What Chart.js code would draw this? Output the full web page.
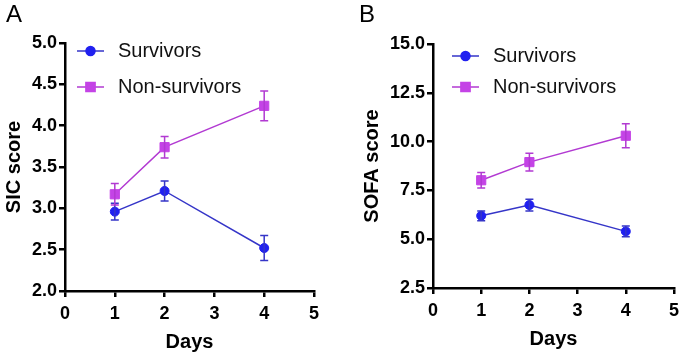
<!DOCTYPE html>
<html>
<head>
<meta charset="utf-8">
<script src="https://cdn.jsdelivr.net/npm/chart.js@4/dist/chart.umd.min.js"></script>
<style>
    body { margin: 0; background: #fff; }
    .panel { position: absolute; top: 0; width: 342px; height: 358px; }
    .letter { position: absolute; top: 2px; font: 24px "Liberation Sans", Arial, sans-serif; color: #000; line-height: 24px; }
</style>
</head>
<body>
<div class="panel" style="left:0"><canvas id="chartA" width="342" height="358"></canvas></div>
<div class="panel" style="left:343px"><canvas id="chartB" width="342" height="358"></canvas></div>
<div class="letter" style="left:6px">A</div>
<div class="letter" style="left:359px">B</div>
<script>
const days = [1, 2, 4];
const seriesNames = ['Survivors', 'Non-survivors'];

const sicSurvivors = [2.96, 3.21, 2.52];
const sicSurvivorsErr = [0.10, 0.12, 0.15];
const sicNonSurvivors = [3.17, 3.74, 4.24];
const sicNonSurvivorsErr = [0.13, 0.13, 0.18];

const sofaSurvivors = [6.2, 6.75, 5.4];
const sofaSurvivorsErr = [0.25, 0.3, 0.27];
const sofaNonSurvivors = [8.02, 8.95, 10.3];
const sofaNonSurvivorsErr = [0.4, 0.45, 0.62];

const blueLine = '#3535c8';
const bluePoint = '#2020f0';
const purpleLine = '#b23ad2';
const purplePoint = '#c443e6';
const fontFamily = '"Liberation Sans", Arial, sans-serif';

// error bars + legend drawn with the chart's own scales
const errorBarPlugin = {
    id: 'errorBars',
    afterDatasetsDraw(chart) {
        const ctx = chart.ctx;
        const xScale = chart.scales.x;
        const yScale = chart.scales.y;
        chart.data.datasets.forEach(ds => {
            ctx.save();
            ctx.strokeStyle = ds.borderColor;
            ctx.lineWidth = 1.5;
            ds.data.forEach((pt, i) => {
                const err = ds.errors[i];
                const x = xScale.getPixelForValue(pt.x);
                const yTop = yScale.getPixelForValue(pt.y + err);
                const yBot = yScale.getPixelForValue(pt.y - err);
                ctx.beginPath();
                ctx.moveTo(x, yTop);
                ctx.lineTo(x, yBot);
                ctx.moveTo(x - 4, yTop);
                ctx.lineTo(x + 4, yTop);
                ctx.moveTo(x - 4, yBot);
                ctx.lineTo(x + 4, yBot);
                ctx.stroke();
            });
            ctx.restore();
        });
    },
    afterDraw(chart) {
        const opts = chart.options.plugins.errorBars;
        const ctx = chart.ctx;
        chart.data.datasets.forEach((ds, i) => {
            const y = opts.rows[i];
            ctx.save();
            ctx.strokeStyle = ds.borderColor;
            ctx.lineWidth = 1.5;
            ctx.beginPath();
            ctx.moveTo(opts.lineX, y);
            ctx.lineTo(opts.lineX + 27, y);
            ctx.stroke();
            ctx.fillStyle = ds.pointBackgroundColor;
            ctx.strokeStyle = ds.pointBackgroundColor;
            Chart.helpers.drawPoint(ctx, {
                pointStyle: ds.pointStyle,
                radius: ds.pointRadius,
                borderWidth: 1,
            }, opts.lineX + 13.5, y);
            ctx.fillStyle = '#111';
            ctx.font = '20px ' + fontFamily;
            ctx.textBaseline = 'middle';
            ctx.fillText(seriesNames[i], opts.textX, y);
            ctx.restore();
        });
    }
};

function makeDataset(label, values, errors, line, point, style, radius) {
    return {
        label: label,
        data: days.map((d, i) => ({ x: d, y: values[i] })),
        errors: errors,
        borderColor: line,
        borderWidth: 1.5,
        pointStyle: style,
        pointRadius: radius,
        pointBackgroundColor: point,
        pointBorderColor: point,
        pointBorderWidth: 1,
        showLine: true,
        tension: 0
    };
}

function makeChart(canvasId, datasets, cfg) {
    const ctx = document.getElementById(canvasId).getContext('2d');
    return new Chart(ctx, {
        type: 'scatter',
        data: { datasets: datasets },
        plugins: [errorBarPlugin],
        options: {
            responsive: false,
            animation: false,
            layout: { padding: { top: cfg.top, right: cfg.right, left: cfg.left, bottom: cfg.bottom } },
            plugins: {
                legend: { display: false },
                tooltip: { enabled: false },
                errorBars: { rows: cfg.legendRows, lineX: cfg.legendX, textX: cfg.legendTextX }
            },
            scales: {
                x: {
                    type: 'linear',
                    min: 0,
                    max: 5,
                    afterFit: scale => { scale.height = cfg.xHeight; },
                    ticks: { stepSize: 1, color: '#000', padding: 6, font: { family: fontFamily, size: 18, weight: 'bold' } },
                    grid: { drawOnChartArea: false, drawTicks: true, tickLength: 6, color: '#000', lineWidth: 2.5 },
                    border: { color: '#000', width: 2.5 },
                    title: { display: true, text: 'Days', color: '#000', padding: 4, font: { family: fontFamily, size: 20, weight: 'bold' } }
                },
                y: {
                    min: cfg.yMin,
                    max: cfg.yMax,
                    afterFit: scale => { scale.width = cfg.yWidth; },
                    ticks: { stepSize: cfg.yStep, color: '#000', padding: 2, callback: v => v.toFixed(1), font: { family: fontFamily, size: 18, weight: 'bold' } },
                    grid: { drawOnChartArea: false, drawTicks: true, tickLength: 6, color: '#000', lineWidth: 2.5 },
                    border: { color: '#000', width: 2.5 },
                    title: { display: true, text: cfg.yTitle, color: '#000', padding: 2, font: { family: fontFamily, size: 20, weight: 'bold' } }
                }
            }
        }
    });
}

makeChart('chartA', [
    makeDataset('Survivors', sicSurvivors, sicSurvivorsErr, blueLine, bluePoint, 'circle', 4.5),
    makeDataset('Non-survivors', sicNonSurvivors, sicNonSurvivorsErr, purpleLine, purplePoint, 'rect', 6.5)
], {
    top: 43, right: 28, left: 0, bottom: 0,
    xHeight: 67, yWidth: 65,
    yMin: 2, yMax: 5, yStep: 0.5, yTitle: 'SIC score',
    legendRows: [51, 87], legendX: 77, legendTextX: 118
});

makeChart('chartB', [
    makeDataset('Survivors', sofaSurvivors, sofaSurvivorsErr, blueLine, bluePoint, 'circle', 4.5),
    makeDataset('Non-survivors', sofaNonSurvivors, sofaNonSurvivorsErr, purpleLine, purplePoint, 'rect', 6.5)
], {
    top: 44, right: 10, left: 15, bottom: 3,
    xHeight: 67, yWidth: 75,
    yMin: 2.5, yMax: 15, yStep: 2.5, yTitle: 'SOFA score',
    legendRows: [56, 87], legendX: 109, legendTextX: 150
});
</script>
</body>
</html>
